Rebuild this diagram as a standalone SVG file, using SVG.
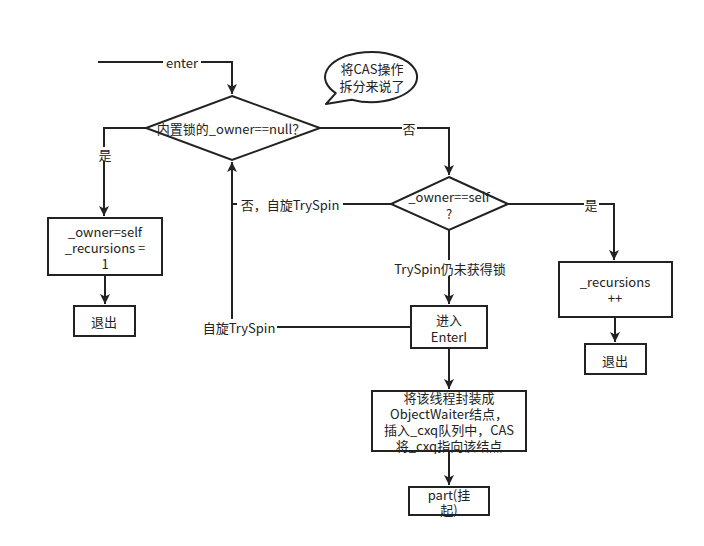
<svg xmlns="http://www.w3.org/2000/svg" width="704" height="546" viewBox="0 0 704 546">
<defs>
<marker id="ah" viewBox="0 0 10 10" refX="10" refY="5" markerWidth="5" markerHeight="5" orient="auto" markerUnits="strokeWidth">
<path d="M0,0 L10,5 L0,10 L2.5,5 Z" fill="#222"/>
</marker>
<style>
.sh{fill:#fff;stroke:#222;stroke-width:2}
.ln{fill:none;stroke:#222;stroke-width:2}
.t{font-family:"Noto Sans CJK SC","Liberation Sans",sans-serif;font-size:13px;fill:#222;text-anchor:middle;dominant-baseline:central}
.lb{fill:#fff}
</style>
</defs>
<rect width="704" height="546" fill="#fff"/>
<g id="connectors">
<path class="ln" d="M98,62 H232 V94" marker-end="url(#ah)"/>
<path class="ln" d="M146,128 H104 V216" marker-end="url(#ah)"/>
<path class="ln" d="M320,128 H449 V175" marker-end="url(#ah)"/>
<path class="ln" d="M391,204 H232 V162" marker-end="url(#ah)"/>
<path class="ln" d="M411,327 H232 V204"/>
<path class="ln" d="M508,204 H614 V260" marker-end="url(#ah)"/>
<path class="ln" d="M449,230 V304" marker-end="url(#ah)"/>
<path class="ln" d="M105,275 V304" marker-end="url(#ah)"/>
<path class="ln" d="M615,317 V342" marker-end="url(#ah)"/>
<path class="ln" d="M449,348 V389" marker-end="url(#ah)"/>
<path class="ln" d="M449,451 V485" marker-end="url(#ah)"/>
<rect class="lb" x="163" y="55" width="38" height="14"/>
<text class="t" x="182" y="62">enter</text>
<rect class="lb" x="98" y="147" width="14" height="14"/>
<text class="t" x="105" y="154">是</text>
<rect class="lb" x="402" y="121" width="15" height="14"/>
<text class="t" x="409" y="128">否</text>
<rect class="lb" x="237" y="196" width="106" height="16"/>
<text class="t" x="290" y="204">否，自旋TrySpin</text>
<rect class="lb" x="584" y="197" width="15" height="14"/>
<text class="t" x="591" y="204">是</text>
<rect class="lb" x="392" y="260" width="115" height="16"/>
<text class="t" x="450" y="268">TrySpin仍未获得锁</text>
<rect class="lb" x="201" y="319" width="76" height="16"/>
<text class="t" x="239" y="327">自旋TrySpin</text>
</g>
<g id="bubble">
<path class="sh" d="M335.8,93.1 A46,25 0 1 1 351.6,99.7 L326,104 Z" stroke-linejoin="round"/>
<text class="t" x="372" y="68">将CAS操作</text>
<text class="t" x="372" y="85">拆分来说了</text>
</g>
<g id="d1">
<polygon class="sh" points="232,96 320,128 232,160 146,128"/>
<text class="t" x="231" y="128">内置锁的_owner==null？</text>
</g>
<g id="d2">
<polygon class="sh" points="449,177 508,204 449,230 391,204"/>
<text class="t" x="449" y="196">_owner==self</text>
<text class="t" x="449" y="213">?</text>
</g>
<g id="box1">
<rect class="sh" x="48" y="218" width="114" height="57"/>
<text class="t" x="105" y="231">_owner=self</text>
<text class="t" x="105" y="247">_recursions =</text>
<text class="t" x="105" y="263">1</text>
</g>
<g id="exit1">
<rect class="sh" x="74" y="306" width="61" height="30"/>
<text class="t" x="104" y="321">退出</text>
</g>
<g id="box2">
<rect class="sh" x="559" y="262" width="113" height="55"/>
<text class="t" x="615" y="281">_recursions</text>
<text class="t" x="615" y="297">++</text>
</g>
<g id="exit2">
<rect class="sh" x="585" y="344" width="61" height="30"/>
<text class="t" x="615" y="360">退出</text>
</g>
<g id="enteri">
<rect class="sh" x="411" y="306" width="76" height="42"/>
<text class="t" x="449" y="319">进入</text>
<text class="t" x="449" y="336">EnterI</text>
</g>
<g id="waiter">
<rect class="sh" x="372" y="391" width="154" height="60"/>
<text class="t" x="449" y="397">将该线程封装成</text>
<text class="t" x="449" y="413">ObjectWaiter结点，</text>
<text class="t" x="449" y="429">插入_cxq队列中，CAS</text>
<text class="t" x="449" y="445">将_cxq指向该结点</text>
</g>
<g id="part">
<rect class="sh" x="409" y="487" width="80" height="28"/>
<text class="t" x="449" y="494">part(挂</text>
<text class="t" x="449" y="509">起)</text>
</g>
</svg>
